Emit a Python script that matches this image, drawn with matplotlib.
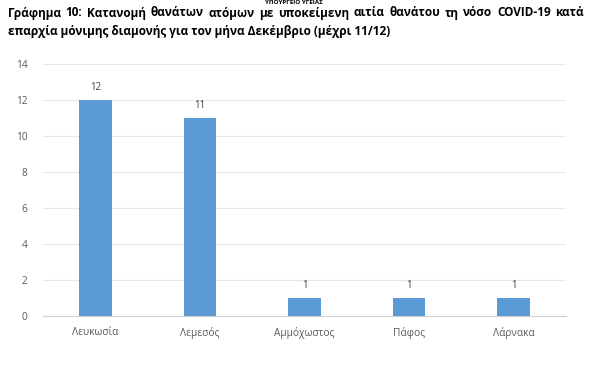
import matplotlib.pyplot as plt

# data
districts = ['Λευκωσία', 'Λεμεσός', 'Αμμόχωστος', 'Πάφος', 'Λάρνακα']
deaths = [12, 11, 1, 1, 1]
yticks = [0, 2, 4, 6, 8, 10, 12, 14]

title_1 = 'Γράφημα 10: Κατανομή θανάτων ατόμων με υποκείμενη αιτία θανάτου τη νόσο COVID-19 κατά'
title_2 = 'επαρχία μόνιμης διαμονής για τον μήνα Δεκέμβριο (μέχρι 11/12)'

plt.rcParams['font.family'] = ['Open Sans', 'DejaVu Sans']

W, H = 593, 379
fig = plt.figure(figsize=(W / 100, H / 100), dpi=100)
ax = fig.add_axes([43 / W, 1 - 316 / H, (566 - 43) / W, (316 - 64) / H])

x = range(len(districts))
bars = ax.bar(x, deaths, width=0.31, color='#5b9bd5', zorder=3)
for rect, v in zip(bars, deaths):
    ax.annotate(str(v), (rect.get_x() + rect.get_width() / 2, v),
                xytext=(0, 5), textcoords='offset points',
                ha='center', va='bottom', fontsize=7, color='#404040')

ax.set_xlim(-0.5, len(districts) - 0.5)
ax.set_ylim(0, 14)
ax.set_yticks(yticks)
ax.set_xticks(list(x))
ax.set_xticklabels(districts)
ax.tick_params(axis='both', length=0, labelsize=7.3, colors='#595959')
ax.tick_params(axis='y', pad=11)
ax.tick_params(axis='x', pad=8)
ax.grid(axis='y', color='#e8e8e8', linewidth=0.8, zorder=0)
for s in ['top', 'right', 'left']:
    ax.spines[s].set_visible(False)
ax.spines['bottom'].set_color('#d0d0d0')
ax.spines['bottom'].set_linewidth(0.8)

# page header, cut off at the top in the source
fig.text(294 / W, 1, 'ΥΠΟΥΡΓΕΙΟ ΥΓΕΙΑΣ', ha='center', va='top',
         fontsize=4.5, fontweight='bold', color='black')

# title, first line justified to the full width like the source document
left, right = 8, 584
renderer = fig.canvas.get_renderer()
words = title_1.split(' ')
texts = [fig.text(0, 1 - 13 / H, w, ha='left', va='center', fontsize=8.5,
                  fontweight='bold', color='black') for w in words]
widths = [t.get_window_extent(renderer).width for t in texts]
gap = (right - left - sum(widths)) / (len(words) - 1)
pos = left
for t, w in zip(texts, widths):
    t.set_x(pos / W)
    pos += w + gap
fig.text(left / W, 1 - 32 / H, title_2, ha='left', va='center',
         fontsize=8.5, fontweight='bold', color='black')

fig.savefig('out.png', dpi=100)
